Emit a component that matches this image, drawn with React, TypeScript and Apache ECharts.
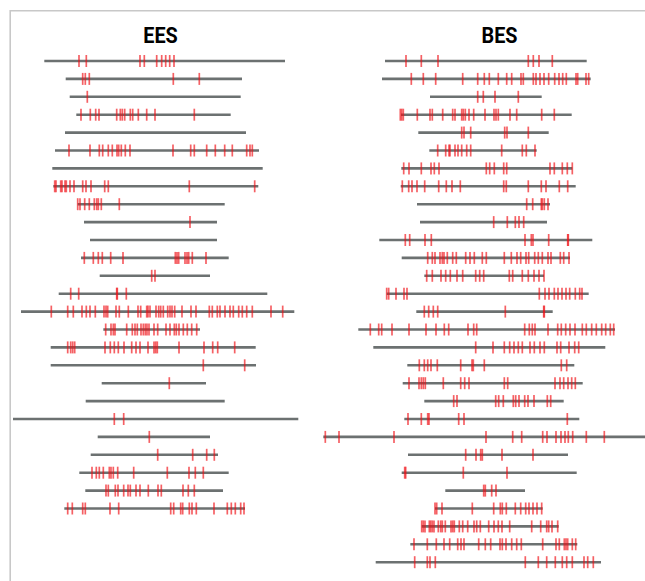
import React, { useEffect, useRef } from "react";
import * as echarts from "echarts";

const panelTitles = ["EES", "BES"];

// EES: gene extents (start, end) per row and site positions per row
const eesStart = [44.3, 65.7, 69.7, 76.3, 65, 55, 52.3, 53.3, 77.7, 84, 90, 81, 99.7, 58.7, 21, 103.3, 50.7, 50.7, 101.7, 85.7, 13, 97.7, 90.7, 79.3, 85.3, 64.3];
const eesEnd = [285, 242, 240.7, 230.7, 246, 259, 262.7, 258.3, 224.7, 217, 217, 228.7, 210, 267.3, 294.3, 200, 255.7, 256, 206, 224.7, 298.3, 210, 218, 228.7, 223, 245];
const eesSites: number[][] = [
  [79, 86.3, 140, 144.3, 156.7, 161.7, 165.7, 169.7, 174],
  [82.7, 85.3, 89.3, 173.3, 199.3],
  [87.3],
  [81, 90.3, 95.7, 99, 116.7, 120.3, 122.3, 124.7, 130.3, 132.7, 138.3, 146.7, 155, 194.3],
  [],
  [69, 90, 99.3, 102.7, 108.3, 112.3, 117, 118.7, 121.3, 125.3, 130, 173, 190.7, 194.3, 206.7, 215.3, 224.7, 232.3, 246.7, 250, 252.3],
  [],
  [54.7, 56, 60.7, 62, 65, 66.3, 70, 74, 82.7, 86, 91, 104.7, 108.3, 189.3, 254.7],
  [77.7, 80, 84.7, 89.3, 94.3, 96.7, 98.3, 101.3, 119.3],
  [190],
  [],
  [84.3, 93.3, 98.3, 102.3, 110.7, 123, 175.3, 177, 178.7, 185, 187, 188.7, 192.3, 206],
  [151.7, 155],
  [70.7, 78.7, 116.7, 117.3, 126.3],
  [51.3, 67.7, 73.3, 82, 86.3, 90, 95.3, 104, 106, 107.7, 116, 119.3, 128.3, 138, 140.7, 146.7, 148, 150, 156, 158.7, 160.7, 163.3, 167.7, 170, 172, 174.7, 182, 191, 196, 209.3, 212.3, 217.3, 220, 225, 230, 233.3, 238.7, 242.3, 246.7, 252.3, 271, 282.7],
  [105.7, 111, 113.3, 115, 126.7, 132.3, 135, 137.3, 141, 143.3, 145.3, 147, 149, 154, 157.7, 166, 170, 174.3, 176.3, 179, 183.3, 187.3, 191.7, 196.7],
  [67.7, 70.7, 72.7, 74.7, 105, 110.3, 114.3, 118.3, 124, 131.7, 136, 140, 148, 154, 155.7, 157.3, 179, 204, 212.7, 217.7, 234.7],
  [203.3, 244.7],
  [169.3],
  [],
  [114.3, 123.7],
  [149.3],
  [157.7, 192.7, 206.7, 214.3],
  [92, 96.3, 99.3, 103.3, 109.3, 111, 113.3, 117.7, 133.7, 167.3, 189, 195.3, 203.3],
  [106, 108.3, 115.3, 118, 123.7, 128, 130.3, 136, 140, 148.3, 158, 161.3, 183, 188.3, 194.3],
  [67.7, 72.3, 82.7, 85.3, 110, 118.7, 170.7, 173.7, 180.7, 182.7, 189.3, 192, 196.3, 214, 227.3, 231.3, 235.3, 240.7, 244],
];

// BES
const besStart = [65, 62, 110, 81, 98.3, 109.3, 81.3, 80.7, 97, 100, 59.3, 81.7, 104.3, 66.7, 96.3, 38.3, 53.3, 87.3, 82.7, 104.3, 84.3, 3.3, 88, 81.7, 125.3, 115, 101.7, 90.3, 55.7];
const besEnd = [266.7, 270.7, 221.7, 251.7, 228.7, 216.7, 252.3, 255.7, 230, 227, 272.3, 250, 224, 268.7, 232.7, 295, 285.3, 254.3, 262.7, 243.7, 259.3, 325, 248, 256.7, 205, 222.7, 238.7, 257.3, 281];
const besSites: number[][] = [
  [86, 101.3, 118, 208.3, 213.3, 219, 232.3],
  [91.3, 103.3, 115.7, 142.7, 157.7, 164.3, 169.3, 178.3, 186.7, 191.7, 201, 203.3, 213.3, 216, 220, 224, 228.7, 234.7, 239, 242.7, 246.3, 256, 257.7, 266, 268.7],
  [157.7, 163.3, 175, 198.3],
  [80.3, 81.7, 83.3, 97.3, 110, 112.3, 122.7, 132.7, 135, 141.7, 143.3, 145.3, 149, 153.7, 165, 174, 176, 178.3, 190, 196.7, 221.7, 234.3],
  [141.7, 144, 150.7, 184.7, 187, 208.3],
  [117.7, 125.7, 129, 130, 135, 138, 141.7, 146.7, 150.7, 181.7, 202.3, 206.3, 215],
  [83.7, 89, 101.3, 111, 114.3, 119, 166.3, 169.7, 174.3, 183.7, 186.7, 230, 234.3, 242.3, 247.3, 252.3],
  [82.3, 88.7, 92, 97, 104.7, 118.7, 126.3, 132, 140.3, 183.7, 186.3, 208.3, 221.3, 226, 239.3, 247.7],
  [206.7, 212.7, 221.3, 222.3, 224.3, 228],
  [173.7, 187.3, 195.3, 199, 203.7],
  [85.3, 89.7, 105, 111.3, 205, 211.3, 213, 228.7, 247.7, 248.3],
  [107.7, 112.3, 115, 120, 122.3, 124, 127.3, 132.7, 136.3, 145.7, 150, 154.3, 162.3, 166.3, 184.3, 191.3, 197, 200.7, 206, 208.7, 214.7, 218.3, 222.3, 228, 231, 240.3, 243.7, 249],
  [106.7, 112.3, 121, 125.7, 130.3, 137, 142.7, 155.7, 159.7, 163.7, 189.3, 192.7, 202.3, 208.3, 214, 219, 224],
  [66.7, 68.7, 76, 84, 87, 219.3, 225, 229, 234.3, 238, 242, 246, 249.7, 255.3, 259.7, 262],
  [104.3, 108.7, 113.3, 117.7, 185.3, 223.7, 224.3],
  [50.3, 58.7, 61.7, 72, 89, 106, 116, 124.3, 128.7, 148, 153.7, 156.7, 204.7, 209.3, 212.3, 215, 228, 237.7, 241.3, 245.7, 250, 255, 262.3, 266.3, 271.7, 276.3, 281.7, 285.7, 290.3, 293.7],
  [155.7, 173, 184.3, 189.7, 194, 198.3, 202.3, 210, 214.3, 220, 224.3, 237, 240.7, 249, 254.7, 258.7],
  [99.3, 104.3, 107.7, 111, 117.3, 140.7, 152, 153.3, 164.3, 241.3, 246.7],
  [89, 99, 101.3, 103.3, 105.3, 123.3, 140.7, 144.7, 149, 184.3, 187.7, 235, 240, 243.7, 248, 251.7, 255.3],
  [133.7, 137, 175.7, 178.7, 183.3, 193.3, 195.7, 199, 204.7, 208, 214, 227.3, 230.7],
  [88, 101.3, 107.7, 109, 138.7, 144, 247.3],
  [5.3, 19, 74, 166, 192.7, 201.7, 222.7, 227, 236, 241, 245, 248.3, 252.7, 266.3, 284.3],
  [145.7, 156, 160.7, 162.3, 182, 213],
  [84.7, 85.7, 143.3, 187],
  [163.7, 165.3, 171.7, 176],
  [115, 116.7, 122, 152.3, 173.7, 180.3, 182.3, 186.3, 195.3, 200.7, 205.7, 209, 213, 217, 221.7],
  [101.7, 103.3, 105, 109.3, 110.7, 112.3, 114, 118.3, 120.7, 122.3, 125.3, 131, 132.7, 134.3, 139.3, 142.7, 147.7, 154, 156.7, 160.3, 168.7, 174, 178.3, 182, 189.7, 211.7, 220.7, 226.7, 228.7, 232, 237.7],
  [94, 107.3, 116.3, 124, 129.7, 137.7, 141, 144, 158.7, 165.3, 170.7, 180, 182.3, 186, 191.7, 196.7, 201.3, 222.7, 236, 239.3, 244.3, 246, 247.7, 252.3, 255.7],
  [94.7, 107.3, 110, 115.3, 205.3, 218.3, 226.7, 235.3, 242.3, 246.7, 252.3, 264, 267.7, 273.3],
];

const LINE_COLOR = "#6c7171";
const SITE_COLOR = "rgba(240,12,18,0.82)";

export default function App() {
  const ref = useRef<HTMLDivElement>(null);
  useEffect(() => {
    const chart = echarts.init(ref.current!, null, { renderer: "svg" });
    const geneData = (s: number[], e: number[]) => s.map((v, i) => [v, e[i], i]);
    const siteData = (t: number[][]) => t.flatMap((row, i) => row.map((x) => [x, i]));
    const renderGene = (_p: any, api: any) => {
      const a = api.coord([api.value(0), api.value(2)]);
      const b = api.coord([api.value(1), api.value(2)]);
      return {
        type: "line",
        shape: { x1: a[0], y1: a[1], x2: b[0], y2: b[1] },
        style: { stroke: LINE_COLOR, lineWidth: 2.6 },
      };
    };
    const yAxisBase = { type: "value", min: 0, max: 28, inverse: true, show: false };
    const series: any[] = [];
    [
      [eesStart, eesEnd, eesSites],
      [besStart, besEnd, besSites],
    ].forEach((p: any, idx) => {
      series.push({
        type: "custom",
        xAxisIndex: idx,
        yAxisIndex: idx,
        renderItem: renderGene,
        encode: { x: [0, 1], y: 2 },
        data: geneData(p[0], p[1]),
        clip: false,
        silent: true,
        z: 1,
      });
      series.push({
        type: "scatter",
        xAxisIndex: idx,
        yAxisIndex: idx,
        symbol: "rect",
        symbolSize: [1.7, 12],
        itemStyle: { color: SITE_COLOR },
        data: siteData(p[2]),
        silent: true,
        z: 2,
      });
    });
    const titleFont = "bold 22px Roboto, 'Liberation Sans', sans-serif";
    chart.setOption({
      animation: false,
      grid: [
        { left: 0, width: 320, top: 61, height: 501.2 },
        { left: 320, width: 325, top: 61, height: 501.2 },
      ],
      xAxis: [
        { type: "value", min: 0, max: 320, show: false, gridIndex: 0 },
        { type: "value", min: 0, max: 325, show: false, gridIndex: 1 },
      ],
      yAxis: [
        { ...yAxisBase, gridIndex: 0 },
        { ...yAxisBase, gridIndex: 1 },
      ],
      series,
      graphic: [
        { type: "line", shape: { x1: 10.2, y1: 10, x2: 10.2, y2: 581 }, style: { stroke: "#c8c8c8", lineWidth: 1.6 }, silent: true },
        { type: "line", shape: { x1: 10, y1: 10.8, x2: 645, y2: 10.8 }, style: { stroke: "#c8c8c8", lineWidth: 1.6 }, silent: true },
        {
          type: "text",
          x: 160.5,
          y: 35.5,
          scaleX: 0.9,
          style: { text: panelTitles[0], fill: "#000", font: titleFont, textAlign: "center", textVerticalAlign: "middle" },
        },
        {
          type: "text",
          x: 499.5,
          y: 35.5,
          scaleX: 0.9,
          style: { text: panelTitles[1], fill: "#000", font: titleFont, textAlign: "center", textVerticalAlign: "middle" },
        },
      ],
    });
    return () => chart.dispose();
  }, []);
  return <div ref={ref} style={{ position: "absolute", left: 0, top: 0, width: 645, height: 581 }} />;
}
